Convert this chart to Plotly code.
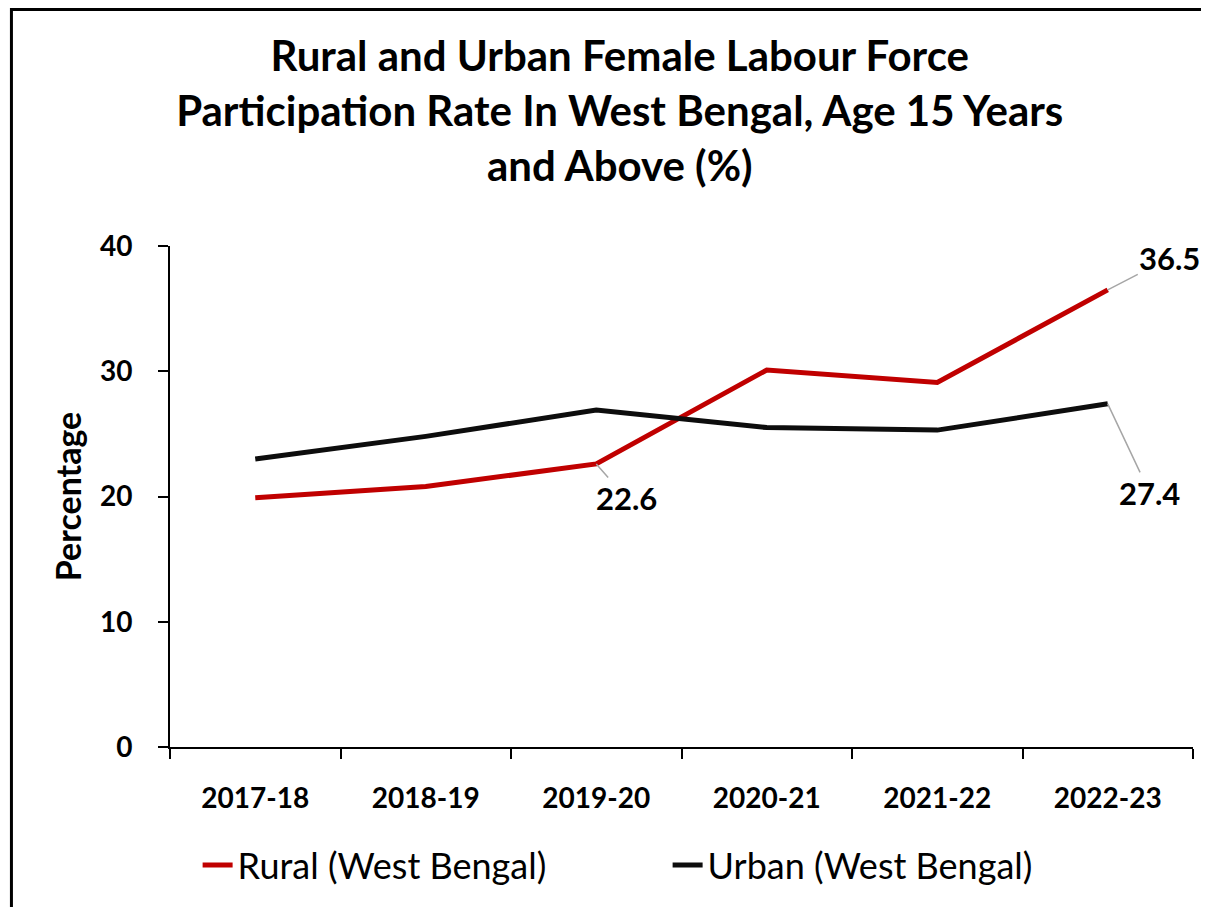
import plotly.graph_objects as go

years = ["2017-18", "2018-19", "2019-20", "2020-21", "2021-22", "2022-23"]
rural = [19.9, 20.8, 22.6, 30.1, 29.1, 36.5]
urban = [23.0, 24.8, 26.9, 25.5, 25.3, 27.4]
y_ticks = [0, 10, 20, 30, 40]

FONT = "Lato"

fig = go.Figure()
fig.add_trace(go.Scatter(x=years, y=rural, mode="lines", name="Rural (West Bengal)",
                         line=dict(color="#C00000", width=5)))
fig.add_trace(go.Scatter(x=years, y=urban, mode="lines", name="Urban (West Bengal)",
                         line=dict(color="#0D0D0D", width=5)))

# data labels
labels = [
    (years[5], rural[5], 62, -32),
    (years[2], rural[2], 30, 34),
    (years[5], urban[5], 42, 89),
]
for x, y, ax, ay in labels:
    fig.add_annotation(x=x, y=y, text=f"{y:.1f}", showarrow=True,
                       arrowhead=0, arrowwidth=1.5, arrowcolor="#A6A6A6",
                       ax=ax, ay=ay,
                       font=dict(family=FONT, size=31, color="black", weight="bold"))

# y-axis title
fig.add_annotation(x=-0.1, y=0.5, xref="paper", yref="paper", text="Percentage",
                   textangle=-90, showarrow=False, xanchor="center", yanchor="middle",
                   font=dict(family=FONT, size=34, color="black", weight="bold"))

# outer border (only left and top edges are visible in the frame)
fig.add_shape(type="path", xref="paper", yref="paper",
              path="M -0.155,-0.5 L -0.155,1.472 L 1.3,1.472",
              line=dict(color="black", width=3))

fig.update_layout(
    width=1209, height=907,
    margin=dict(l=162, r=24, t=238, b=168),
    paper_bgcolor="white", plot_bgcolor="white",
    title=dict(text="Rural and Urban Female Labour Force<br>Participation Rate In West Bengal, Age 15 Years<br>and Above (%)",
               x=0.506, xanchor="center", y=0.93, yanchor="top",
               font=dict(family=FONT, size=42, color="black", weight="bold")),
    showlegend=True,
    legend=dict(orientation="h", x=0.027, xanchor="left", y=-0.2355, yanchor="middle",
                font=dict(family=FONT, size=36, color="black"),
                entrywidth=425, entrywidthmode="pixels",
                bgcolor="rgba(0,0,0,0)"),
    xaxis=dict(type="category", range=[-0.5, 5.5], showline=True, linecolor="black", linewidth=2,
               ticks="outside", tickson="boundaries", ticklen=10, tickwidth=2, tickcolor="black",
               showgrid=False, ticklabelstandoff=25,
               tickfont=dict(family=FONT, size=28, color="black", weight="bold")),
    yaxis=dict(range=[0, 40], tickvals=y_ticks, showline=True, linecolor="black", linewidth=2,
               ticks="outside", ticklen=10, tickwidth=2, tickcolor="black",
               showgrid=False, zeroline=False, ticklabelstandoff=20,
               tickfont=dict(family=FONT, size=28, color="black", weight="bold")),
)

fig.write_html("out.html")
